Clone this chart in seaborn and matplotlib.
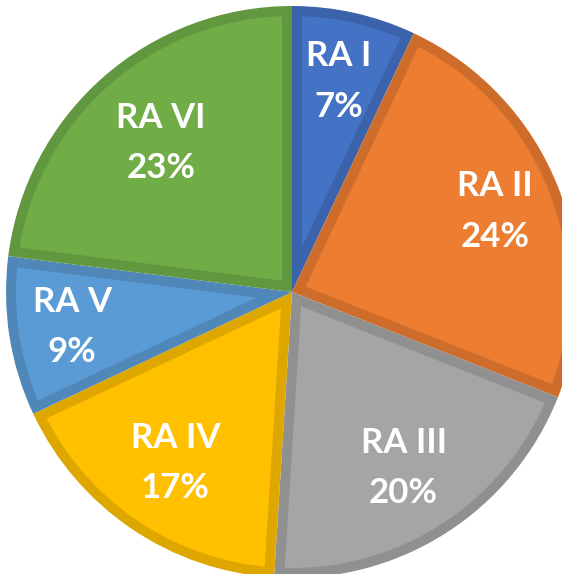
import matplotlib
matplotlib.use("Agg")
import numpy as np
import matplotlib.pyplot as plt
import matplotlib.colors as mcolors
from matplotlib.patches import Polygon
import seaborn as sns

# Data
regions = ["RA I", "RA II", "RA III", "RA IV", "RA V", "RA VI"]
shares = [7, 24, 20, 17, 9, 23]
slice_colors = ["#4472C4", "#ED7D31", "#A5A5A5", "#FFC000", "#5B9BD5", "#70AD47"]
# label distance from centre (fraction of radius), Excel "best fit" style
label_dist = [0.754, 0.764, 0.728, 0.724, 0.778, 0.694]

sns.set_theme(style="white")
plt.rcParams['font.family'] = ['Lato', 'DejaVu Sans']

fig = plt.figure(figsize=(5.62, 5.74), dpi=100)
ax = fig.add_axes([0, 0, 1, 1])

labels = [f"{r}\n{s}%" for r, s in zip(regions, shares)]
wedges, texts = ax.pie(
    shares, labels=labels, colors=slice_colors, startangle=90, counterclock=False,
    labeldistance=0.75, radius=1.0,
    wedgeprops=dict(linewidth=0, edgecolor="none"),
    textprops=dict(color="white", fontsize=25, fontweight="bold",
                   ha="center", va="center", linespacing=1.7),
)

# Excel-like look: darker rim inside every slice
inset = 10 / 286  # border width in radius units
for w, c, t, d in zip(wedges, slice_colors, texts, label_dist):
    dark = tuple(v * 0.87 for v in mcolors.to_rgb(c))
    w.set_facecolor(dark)
    t1, t2 = np.deg2rad(w.theta1), np.deg2rad(w.theta2)
    mid = (t1 + t2) / 2
    rho = w.r - inset
    apex = inset / np.sin((t2 - t1) / 2) * np.array([np.cos(mid), np.sin(mid)])
    off = np.arcsin(inset / rho)
    phi = np.linspace(t1 + off, t2 - off, 120)
    pts = np.vstack([apex, np.column_stack([rho * np.cos(phi), rho * np.sin(phi)])])
    ax.add_patch(Polygon(pts, closed=True, facecolor=c, edgecolor="none", zorder=2))
    t.set_position((d * np.cos(mid), d * np.sin(mid)))
    t.set_zorder(5)

ax.set_aspect("equal")
ax.set_xlim(-292 / 286, (562 - 292) / 286)
ax.set_ylim((292 - 574) / 286, 292 / 286)
ax.axis("off")

fig.savefig("out.png", dpi=100)
